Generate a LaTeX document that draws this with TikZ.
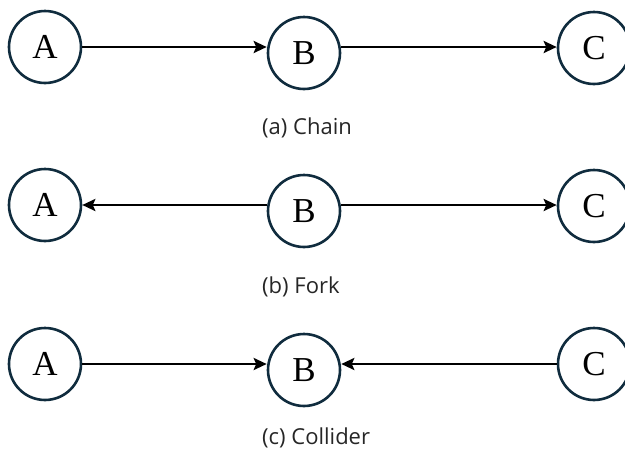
\documentclass[tikz,border=0pt]{standalone}
\usepackage{fontspec}
\setmainfont{Liberation Serif}
\newfontfamily\capfont{Open Sans}
\usetikzlibrary{arrows.meta}
\definecolor{ringcol}{RGB}{16,44,62}
\definecolor{capcol}{RGB}{38,38,38}
\begin{document}
\begin{tikzpicture}[x=1pt,y=-1pt,
  var/.style={circle,draw=ringcol,line width=2.6pt,fill=white,minimum size=72pt,inner sep=0pt,
              font=\fontsize{35}{35}\selectfont},
  edge/.style={line width=2.6pt,-{Stealth[length=13pt,width=12pt,inset=2.5pt]}},
  captext/.style={anchor=west,inner sep=0pt,text=capcol,font=\capfont\fontsize{22}{22}\selectfont}]
\useasboundingbox (0,0) rectangle (625,451);

% (a) chain
\node[var] (A1) at (45,47) {A};
\node[var] (B1) at (304,53) {B};
\node[var] (C1) at (594,48) {C};
\coordinate (b1r) at (B1.east |- A1.east);
\draw[edge] (A1.east) -- (A1.east -| B1.west);
\draw[edge] (b1r) -- (b1r -| C1.west);
\node[captext] (capa) at (262,128) {(a) Chain};

% (b) fork
\node[var] (A2) at (45,205) {A};
\node[var] (B2) at (304,211) {B};
\node[var] (C2) at (594,206) {C};
\coordinate (b2l) at (B2.west |- A2.east);
\coordinate (b2r) at (B2.east |- A2.east);
\draw[edge] (b2l) -- (A2.east);
\draw[edge] (b2r) -- (b2r -| C2.west);
\node[captext] (capb) at (262,287) {(b) Fork};

% (c) collider
\node[var] (A3) at (45,364) {A};
\node[var] (B3) at (304,370) {B};
\node[var] (C3) at (594,364) {C};
\draw[edge] (A3.east) -- (A3.east -| B3.west);
\draw[edge] (C3.west) -- (C3.west -| B3.east);
\node[captext] (capc) at (262,438) {(c) Collider};
\end{tikzpicture}
\end{document}
